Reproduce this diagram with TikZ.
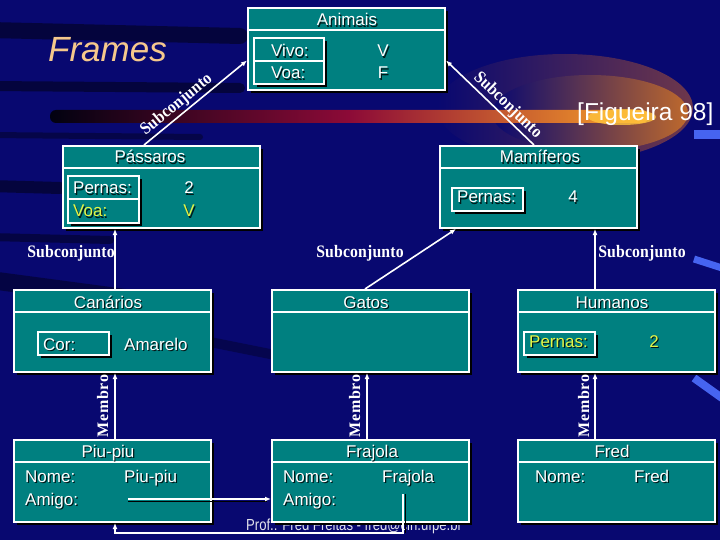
\documentclass[tikz,border=0pt]{standalone}
\usepackage{fontspec}
\setmainfont{Liberation Sans}
\newfontfamily\lblfont{Liberation Serif}[LetterSpace=1.0]
\newfontfamily\memfont{Liberation Serif}[LetterSpace=5.0]
\usetikzlibrary{arrows.meta,shadows,calc}
\definecolor{bgblue}{RGB}{8,8,112}
\definecolor{frteal}{RGB}{0,128,128}
\definecolor{slotyellow}{RGB}{228,245,70}
\definecolor{framesorange}{RGB}{245,200,140}
\definecolor{swooshA}{RGB}{110,55,75}
\definecolor{swooshB}{RGB}{190,105,45}
\definecolor{bandmid}{RGB}{140,10,55}
\definecolor{bandend}{RGB}{250,165,40}
\definecolor{glowcol}{RGB}{255,195,60}
\definecolor{lightstreak}{RGB}{70,100,240}
\definecolor{footcol}{RGB}{225,225,235}
\newcommand{\shd}[1]{\rlap{\kern1.2pt\raisebox{-1.2pt}{\textcolor{black!80!frteal}{#1}}}#1}
\newcommand{\lbltxt}[1]{\scalebox{0.9}[1]{#1}}
\tikzset{
  framebox/.style={draw=white, line width=2pt, fill=frteal, minimum width=197pt,
    minimum height=82pt, anchor=north west, inner sep=0pt,
    drop shadow={shadow xshift=3pt, shadow yshift=-3pt, opacity=1, fill=black}},
  slotbox/.style={draw=white, line width=1.6pt, fill=frteal, anchor=north west,
    inner sep=0pt, minimum width=71pt, minimum height=23pt,
    drop shadow={shadow xshift=3pt, shadow yshift=-3pt, opacity=1, fill=black}},
  sepline/.style={draw=white, line width=2pt},
  hdr/.style={text=white, font=\fontsize{17}{20}\selectfont, inner sep=0pt, anchor=base},
  val/.style={text=white, font=\fontsize{17}{20}\selectfont, anchor=base west, inner sep=0pt},
  cval/.style={val, anchor=base},
  yel/.style={text=slotyellow},
  conn/.style={draw=white, line width=1.6pt, -{Latex[length=6pt,width=5pt]}},
  shadowline/.style={draw=black, line width=1.6pt},
  lbl/.style={text=white, font=\lblfont\bfseries\fontsize{17.5}{19}\selectfont, inner sep=1.5pt},
  vlbl/.style={text=white, font=\memfont\bfseries\fontsize{16}{18}\selectfont, rotate=90, anchor=base, inner sep=0pt},
  streak/.style={line cap=round, draw=black, opacity=.45},
}
\begin{document}
\begin{tikzpicture}[x=1pt,y=-1pt]
% ---------- background ----------
\fill[bgblue] (0,0) rectangle (720,540);
\useasboundingbox (0,0) rectangle (720,540);
\begin{scope}
\clip (0,0) rectangle (720,540);
\draw[streak, line width=16pt] (-10,30) -- (240,36);
\draw[streak, line width=10pt] (-10,86) -- (240,88);
\draw[streak, line width=6pt, opacity=.35] (-10,135) -- (200,137);
\draw[streak, line width=12pt] (-10,186) -- (60,188);
\draw[streak, line width=8pt, opacity=.4] (-10,237) -- (110,240);
\draw[streak, line width=18pt, opacity=.4] (-10,280) -- (140,300);
\draw[streak, line width=10pt, opacity=.3] (150,330) -- (300,360);
\shade[left color=bgblue, right color=swooshA] (565,108) ellipse [x radius=128pt, y radius=54pt];
\shade[left color=bgblue, right color=swooshB] (590,113) ellipse [x radius=98pt, y radius=38pt];
\shade[rounded corners=6pt, left color=black!85!bgblue, right color=bandend, middle color=bandmid] (50,110) rectangle (648,123);
\fill[glowcol, opacity=.8] (622,117) ellipse [x radius=34pt, y radius=8pt];
\draw[lightstreak, line width=9pt] (694,135) -- (722,135);
\draw[lightstreak, line width=7pt] (694,259) -- (722,268);
\draw[lightstreak, line width=8pt] (694,378) -- (722,398);
\end{scope}
% ---------- titles ----------
\node[text=framesorange, font=\fontsize{35}{40}\selectfont\itshape, anchor=base west, inner sep=0pt] (frames) at (48,62) {Frames};
\node[text=white, font=\fontsize{24.5}{28}\selectfont, anchor=base west, inner sep=0pt] (fig) at (577,121) {[Figueira 98]};
\node[text=footcol, font=\fontsize{16}{18}\selectfont, anchor=base west, inner sep=0pt, xscale=0.82] (footer) at (246,530) {Prof.: Fred Freitas - fred@cin.ufpe.br};
% ---------- frames ----------
\node[framebox] (animais) at (247,7) {};
\draw[sepline] ([yshift=-23pt]animais.north west) -- ([yshift=-23pt]animais.north east);
\node[slotbox, minimum width=70pt, minimum height=46pt] (aslot) at (253,37) {};
\draw[sepline, line width=1.6pt] (aslot.west) -- (aslot.east);
\node[hdr] (animaisT) at (347,26) {\shd{Animais}};
\node[val] (vivoL) at (271,57) {\shd{Vivo:}};
\node[val] (voaL) at (271,79) {\shd{Voa:}};
\node[cval] (vivoV) at (383,57) {\shd{V}};
\node[cval] (voaV) at (383,79) {\shd{F}};

\node[framebox] (passaros) at (62,145) {};
\draw[sepline] ([yshift=-23pt]passaros.north west) -- ([yshift=-23pt]passaros.north east);
\node[slotbox, minimum height=47pt] (pslot) at (67,175) {};
\draw[sepline, line width=1.6pt] (pslot.west) -- (pslot.east);
\node[hdr] (passarosT) at (150,163) {\shd{Pássaros}};
\node[val] (ppernasL) at (73,194) {\shd{Pernas:}};
\node[val, yel] (pvoaL) at (73,217) {\shd{Voa:}};
\node[cval] (ppernasV) at (189,194) {\shd{2}};
\node[cval, yel] (pvoaV) at (189,217) {\shd{V}};

\node[framebox] (mamiferos) at (439,145) {};
\draw[sepline] ([yshift=-23pt]mamiferos.north west) -- ([yshift=-23pt]mamiferos.north east);
\node[slotbox] (mslot) at (451,187) {};
\node[hdr] (mamiferosT) at (540,163) {\shd{Mamíferos}};
\node[val] (mpernasL) at (457,203) {\shd{Pernas:}};
\node[cval] (mpernasV) at (573,203) {\shd{4}};

\node[framebox] (canarios) at (13,289) {};
\draw[sepline] ([yshift=-23pt]canarios.north west) -- ([yshift=-23pt]canarios.north east);
\node[slotbox] (cslot) at (37,331) {};
\node[hdr] (canariosT) at (108,308) {\shd{Canários}};
\node[val] (corL) at (43,350) {\shd{Cor:}};
\node[val] (corV) at (124,350) {\shd{Amarelo}};

\node[framebox] (gatos) at (271,289) {};
\draw[sepline] ([yshift=-23pt]gatos.north west) -- ([yshift=-23pt]gatos.north east);
\node[hdr] (gatosT) at (366,308) {\shd{Gatos}};

\node[framebox] (humanos) at (517,289) {};
\draw[sepline] ([yshift=-23pt]humanos.north west) -- ([yshift=-23pt]humanos.north east);
\node[slotbox] (hslot) at (523,331) {};
\node[hdr] (humanosT) at (612,308) {\shd{Humanos}};
\node[val, yel] (hpernasL) at (529,347) {\shd{Pernas:}};
\node[cval, yel] (hpernasV) at (654,347) {\shd{2}};

\node[framebox] (piupiu) at (13,439) {};
\draw[sepline] ([yshift=-23pt]piupiu.north west) -- ([yshift=-23pt]piupiu.north east);
\node[hdr] (piupiuT) at (108,457) {\shd{Piu-piu}};
\node[val] (ppnomeL) at (25,482) {\shd{Nome:}};
\node[val] (ppnomeV) at (124,482) {\shd{Piu-piu}};
\node[val] (ppamigoL) at (25,505) {\shd{Amigo:}};

\node[framebox] (frajola) at (271,439) {};
\draw[sepline] ([yshift=-23pt]frajola.north west) -- ([yshift=-23pt]frajola.north east);
\node[hdr] (frajolaT) at (372,457) {\shd{Frajola}};
\node[val] (frnomeL) at (283,482) {\shd{Nome:}};
\node[val] (frnomeV) at (382,482) {\shd{Frajola}};
\node[val] (framigoL) at (283,505) {\shd{Amigo:}};

\node[framebox] (fred) at (517,439) {};
\draw[sepline] ([yshift=-23pt]fred.north west) -- ([yshift=-23pt]fred.north east);
\node[hdr] (fredT) at (612,457) {\shd{Fred}};
\node[val] (fdnomeL) at (535,482) {\shd{Nome:}};
\node[val] (fdnomeV) at (634,482) {\shd{Fred}};

% ---------- connectors ----------
\draw[conn] ([xshift=-17.5pt]passaros.north) -- ([yshift=-11.5pt]animais.west)
  node[lbl, pos=0.38, above, sloped] (sub1) {\lbltxt{Subconjunto}};
\draw[conn] ([xshift=-4.5pt]mamiferos.north) -- ([yshift=-11.5pt]animais.east)
  node[lbl, pos=0.38, above, sloped] (sub2) {\lbltxt{Subconjunto}};
\draw[conn] ([xshift=2.5pt]canarios.north) -- ([xshift=2.5pt]canarios.north |- passaros.south);
\node[lbl, anchor=base, inner sep=0pt] (sub3) at (71,257) {\lbltxt{Subconjunto}};
\draw[conn] ([xshift=-5.5pt]gatos.north) -- ([xshift=-82.5pt]mamiferos.south);
\node[lbl, anchor=base, inner sep=0pt] (sub4) at (360,257) {\lbltxt{Subconjunto}};
\draw[conn] ([xshift=-21.5pt]humanos.north) -- ([xshift=-21.5pt]humanos.north |- mamiferos.south);
\node[lbl, anchor=base, inner sep=0pt] (sub5) at (642,257) {\lbltxt{Subconjunto}};

\draw[conn] ([xshift=2.5pt]piupiu.north) -- ([xshift=2.5pt]piupiu.north |- canarios.south);
\node[vlbl] (mem1) at (108,406) {Membro};
\draw[conn] ([xshift=-3.5pt]frajola.north) -- ([xshift=-3.5pt]frajola.north |- gatos.south);
\node[vlbl] (mem2) at (360,406) {Membro};
\draw[conn] ([xshift=-21.5pt]fred.north) -- ([xshift=-21.5pt]fred.north |- humanos.south);
\node[vlbl] (mem3) at (589,406) {Membro};

\coordinate (ppamigo) at (128,499);
\coordinate (framigo) at (403,494);
\coordinate (loopcorner) at (403,533);
\draw[shadowline] ([yshift=-2.5pt]ppamigo) -- ([yshift=-2.5pt,xshift=-4pt]ppamigo -| frajola.west);
\draw[conn] (ppamigo) -- (ppamigo -| frajola.west);
\draw[shadowline] ([xshift=2.5pt]framigo) -- ([xshift=2.5pt]loopcorner);
\draw[conn] (framigo) -- (loopcorner) -| ([xshift=2.5pt]piupiu.south);
\end{tikzpicture}
\end{document}
